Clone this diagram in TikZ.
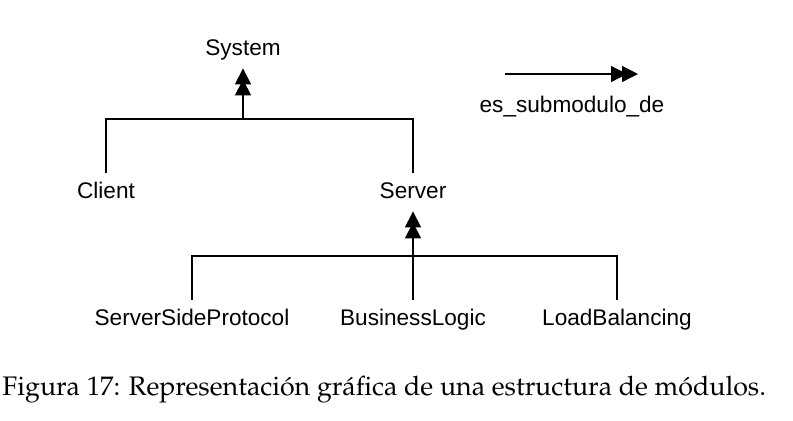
\documentclass[tikz,border=0pt]{standalone}
\usepackage[T1]{fontenc}
\usepackage{fontspec}
\setsansfont{Liberation Sans}
\usepackage{tikz}
\usetikzlibrary{arrows.meta}
\newcommand{\capfont}{\fontencoding{T1}\fontfamily{ppl}\selectfont}
\tikzset{
	mod/.style={font=\sffamily\fontsize{11.3}{13}\selectfont, anchor=base, inner sep=4pt, text height=8.5pt, text depth=2.5pt},
	link/.style={line width=0.6pt},
	sub/.style={link, -{Triangle[length=8pt,width=8pt,sep=-2.5pt]Triangle[length=8pt,width=8pt]}},
}

\begin{document}
\begin{tikzpicture}[x=0.5pt,y=-0.5pt]
	\useasboundingbox (0,0) rectangle (793,420);

	\node[mod] (system) at (243,55) {System};
	\node[mod] (client) at (106,198) {Client};
	\node[mod] (server) at (413,198) {Server};
	\node[mod] (ssp) at (192,325) {ServerSideProtocol};
	\node[mod] (bl) at (413,325) {BusinessLogic};
	\node[mod] (lb) at (617,325) {LoadBalancing};

	\coordinate (jtop) at (243,119);
	\coordinate (jbot) at (413,256);
	\draw[link] (client.north) |- (jtop) -| (server.north);
	\draw[sub] (jtop) -- (system.south);
	\draw[link] (ssp.north) |- (jbot) -| (lb.north);
	\draw[link] (bl.north) -- (jbot);
	\draw[sub] (jbot) -- (server.south);

	% leyenda
	\coordinate (lgs) at (505,74);
	\coordinate (lge) at (638,74);
	\draw[sub] (lgs) -- (lge);
	\node[mod] (lgtext) at (572,112) {es\_submodulo\_de};

	\node[font=\capfont\fontsize{13.4}{16}\selectfont, anchor=base west, inner sep=0pt] (cap) at (2,395) {Figura 17: Representación gráfica de una estructura de módulos.};
\end{tikzpicture}
\end{document}
